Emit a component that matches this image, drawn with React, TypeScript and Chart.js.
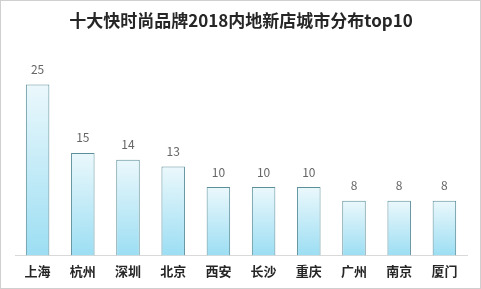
import React, { useEffect, useRef } from "react";
import { Chart, registerables } from "chart.js";

Chart.register(...registerables);

const categories = ["上海", "杭州", "深圳", "北京", "西安", "长沙", "重庆", "广州", "南京", "厦门"];
const storeCounts = [25, 15, 14, 13, 10, 10, 10, 8, 8, 8];
const titleText = "十大快时尚品牌2018内地新店城市分布top10";

const FONT = "'Noto Sans CJK SC', 'Noto Sans', sans-serif";

export default function App() {
  const ref = useRef<HTMLCanvasElement | null>(null);

  useEffect(() => {
    document.body.style.margin = "0";
    const canvas = ref.current;
    if (!canvas) return;

    const valueLabels = {
      id: "valueLabels",
      afterDatasetsDraw(chart: any) {
        const ctx = chart.ctx;
        const meta = chart.getDatasetMeta(0);
        ctx.save();
        ctx.fillStyle = "#666666";
        ctx.font = `12px ${FONT}`;
        ctx.textAlign = "center";
        ctx.textBaseline = "middle";
        meta.data.forEach((bar: any, i: number) => {
          ctx.fillText(String(storeCounts[i]), bar.x, bar.y - 15);
        });
        ctx.restore();
      },
    };

    const frame = {
      id: "frame",
      afterDraw(chart: any) {
        const ctx = chart.ctx;
        ctx.save();
        ctx.strokeStyle = "#cfcfcf";
        ctx.lineWidth = 1;
        ctx.strokeRect(0.5, 0.5, chart.width - 1, chart.height - 1);
        ctx.restore();
      },
    };

    const chart = new Chart(canvas, {
      type: "bar",
      data: {
        labels: categories,
        datasets: [
          {
            data: storeCounts,
            backgroundColor: (context: any) => {
              const c = context.chart;
              const area = c.chartArea;
              if (!area || !c.scales || !c.scales.y) return "#b8e8f6";
              const v = storeCounts[context.dataIndex] ?? 0;
              const top = c.scales.y.getPixelForValue(v);
              const g = c.ctx.createLinearGradient(0, area.bottom, 0, top);
              g.addColorStop(0, "#9cdef3");
              g.addColorStop(1, "#ebf8fc");
              return g;
            },
            borderColor: "#5a8e99",
            borderWidth: 1,
            borderSkipped: "bottom",
            barPercentage: 0.52,
            categoryPercentage: 1,
          },
        ],
      },
      options: {
        animation: false,
        responsive: false,
        devicePixelRatio: 1,
        layout: { padding: { left: 15, right: 14, bottom: 2, top: 0 } },
        plugins: {
          legend: { display: false },
          tooltip: { enabled: false },
          title: {
            display: true,
            text: titleText,
            color: "#262626",
            font: { family: FONT, size: 17, weight: "bold" },
            padding: { top: 10, bottom: 20 },
          },
        },
        scales: {
          x: {
            grid: { display: false, drawTicks: false },
            border: { display: true, color: "#d9d9d9", width: 1 },
            ticks: {
              color: "#262626",
              font: { family: FONT, size: 13, weight: "bold" },
              padding: 8,
            },
          },
          y: {
            display: false,
            min: 0,
            max: 30,
          },
        },
      },
      plugins: [valueLabels, frame],
    } as any);

    return () => chart.destroy();
  }, []);

  return (
    <div style={{ position: "absolute", left: 0, top: 0, width: 481, height: 289, background: "#fff" }}>
      <canvas ref={ref} width={481} height={289} style={{ display: "block", width: 481, height: 289 }} />
    </div>
  );
}
